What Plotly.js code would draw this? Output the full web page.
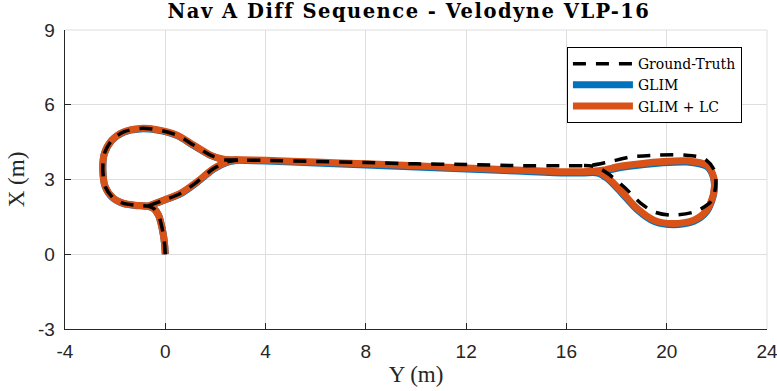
<!DOCTYPE html>
<html>
<head>
<meta charset="utf-8">
<script src="https://cdn.plot.ly/plotly-3.0.1.min.js"></script>
<style>html,body{margin:0;padding:0;background:#fff;}#chart{width:777px;height:391px;}
#chart .gtitle{letter-spacing:1.5px;}</style>
</head>
<body>
<div id="chart"></div>
<script>
// Ground truth (horizontal = Y, vertical = X); null splits path pieces
const gtY = [0.0,-0.03,-0.08,-0.15,-0.27,-0.47,-0.7,-1.2,-1.66,-2.06,-2.39,-2.49,-2.43,-2.13,-1.66,-1.0,-0.33,0.47,1.13,1.8,2.33,2.9,4,6,8,10,12,14,16,17.0,17.7,18.6,19.7,20.7,21.5,21.9,21.95,21.75,21.1,20.15,19.5,18.97,18.3,17.65,17.2,16.7,
  null,-0.7,-0.07,0.6,1.26,1.93,2.46,2.9];
const gtX = [0.0,0.43,0.8,1.15,1.57,1.84,1.93,1.97,2.04,2.24,2.7,3.37,4.04,4.58,4.91,5.05,5.0,4.78,4.38,3.98,3.8,3.78,3.77,3.72,3.68,3.63,3.6,3.56,3.55,3.57,3.71,3.91,3.98,3.98,3.84,3.37,2.7,2.1,1.7,1.57,1.7,2.04,2.7,3.24,3.5,3.56,
  null,1.93,2.17,2.44,2.9,3.44,3.7,3.78];

// GLIM
const glimY = [0.0,-0.03,-0.08,-0.15,-0.27,-0.47,-0.7,-1.2,-1.66,-2.06,-2.39,-2.49,-2.43,-2.13,-1.66,-1.0,-0.33,0.47,1.13,1.8,2.33,2.9,4,6,8,10,12,14,16,17.0,17.5,18.0,18.43,19.75,20.8,21.6,21.87,21.87,21.6,21.08,20.28,19.49,18.82,18.15,17.62,17.25,16.7,
  null,-0.7,-0.07,0.6,1.26,1.93,2.46,2.9];
const glimX = [0.0,0.43,0.8,1.15,1.57,1.84,1.92,1.96,2.03,2.23,2.69,3.36,4.03,4.57,4.9,5.03,4.98,4.76,4.36,3.97,3.8,3.77,3.74,3.66,3.58,3.5,3.42,3.34,3.26,3.28,3.34,3.45,3.52,3.66,3.7,3.52,3.06,2.4,1.72,1.32,1.18,1.32,1.79,2.52,3.05,3.26,3.26,
  null,1.92,2.16,2.42,2.88,3.42,3.69,3.77];

// GLIM + LC
const lcY = [0.0,-0.03,-0.08,-0.15,-0.27,-0.47,-0.7,-1.2,-1.66,-2.06,-2.39,-2.49,-2.43,-2.13,-1.66,-1.0,-0.33,0.47,1.13,1.8,2.33,2.9,4,6,8,10,12,14,16,17.0,17.5,18.0,18.43,19.75,20.8,21.6,21.87,21.87,21.6,21.08,20.28,19.49,18.82,18.15,17.62,17.25,16.7,
  null,-0.7,-0.07,0.6,1.26,1.93,2.46,2.9];
const lcX = [0.0,0.43,0.8,1.15,1.57,1.84,1.93,1.97,2.04,2.24,2.7,3.37,4.04,4.58,4.91,5.05,5.0,4.78,4.38,3.98,3.81,3.79,3.77,3.7,3.63,3.55,3.46,3.38,3.31,3.33,3.38,3.5,3.57,3.71,3.75,3.57,3.1,2.44,1.77,1.37,1.23,1.37,1.84,2.57,3.1,3.31,3.31,
  null,1.93,2.17,2.44,2.9,3.44,3.7,3.79];

const legendNames = ["Ground-Truth","GLIM","GLIM + LC"];
const titleText = "Nav A Diff Sequence - Velodyne VLP-16";
const xTicks = [-4,0,4,8,12,16,20,24];
const yTicks = [-3,0,3,6,9];

const serif = "Liberation Serif, DejaVu Serif, serif";
const wideSerif = "DejaVu Serif, Liberation Serif, serif";
const sans = "Liberation Sans, Arial, sans-serif";

const traces = [
  {x: glimY, y: glimX, mode: 'lines', name: legendNames[1], line: {color: '#0072BD', width: 7, shape: 'spline', smoothing: 0.8}, connectgaps: false, legendrank: 2},
  {x: lcY, y: lcX, mode: 'lines', name: legendNames[2], line: {color: '#D95319', width: 7, shape: 'spline', smoothing: 0.8}, connectgaps: false, legendrank: 3},
  {x: gtY, y: gtX, mode: 'lines', name: legendNames[0], line: {color: '#000000', width: 3.5, dash: '13px,10px', shape: 'spline', smoothing: 0.8}, connectgaps: false, legendrank: 1}
];

const layout = {
  width: 777, height: 391,
  margin: {l: 65, r: 10, t: 30, b: 62},
  paper_bgcolor: '#fff', plot_bgcolor: '#fff',
  title: {text: '<b>' + titleText + '</b>', xref: 'paper', x: 0.49, xanchor: 'center', yref: 'container', y: 0.972, yanchor: 'middle', font: {family: wideSerif, size: 19.5, color: '#000'}},
  xaxis: {range: [-4, 24], tickvals: xTicks, ticktext: xTicks.map(String), showgrid: true, gridcolor: '#dedede', gridwidth: 1,
    zeroline: false, showline: true, linecolor: '#262626', linewidth: 1.3, ticks: 'inside', ticklen: 6, tickcolor: '#262626',
    ticklabelstandoff: 5, ticklabeloverflow: 'allow',
    tickfont: {family: sans, size: 19, color: '#262626'}, title: {text: 'Y (m)', font: {family: serif, size: 23, color: '#262626'}, standoff: 4}},
  yaxis: {range: [-3, 9], tickvals: yTicks, ticktext: yTicks.map(String), showgrid: true, gridcolor: '#dedede', gridwidth: 1,
    zeroline: false, showline: true, linecolor: '#262626', linewidth: 1.3, ticks: 'inside', ticklen: 6, tickcolor: '#262626',
    ticklabelstandoff: 5, ticklabeloverflow: 'allow',
    tickfont: {family: sans, size: 19, color: '#262626'}, title: {text: 'X (m)', font: {family: serif, size: 23, color: '#262626'}, standoff: 7}},
  legend: {x: 0.715, y: 0.943, xanchor: 'left', yanchor: 'top', bgcolor: '#fff', bordercolor: '#000', borderwidth: 1,
    itemwidth: 60,
    font: {family: wideSerif, size: 14, color: '#000'}, traceorder: 'normal', tracegroupgap: 0},
  shapes: [
    {type: 'line', xref: 'paper', yref: 'paper', x0: 0, x1: 1, y0: 1, y1: 1, line: {color: '#dedede', width: 1}, layer: 'below'},
    {type: 'line', xref: 'paper', yref: 'paper', x0: 1, x1: 1, y0: 0, y1: 1, line: {color: '#dedede', width: 1}, layer: 'below'}
  ],
  showlegend: true
};

Plotly.newPlot('chart', traces, layout, {staticPlot: true, displayModeBar: false});
</script>
</body>
</html>
